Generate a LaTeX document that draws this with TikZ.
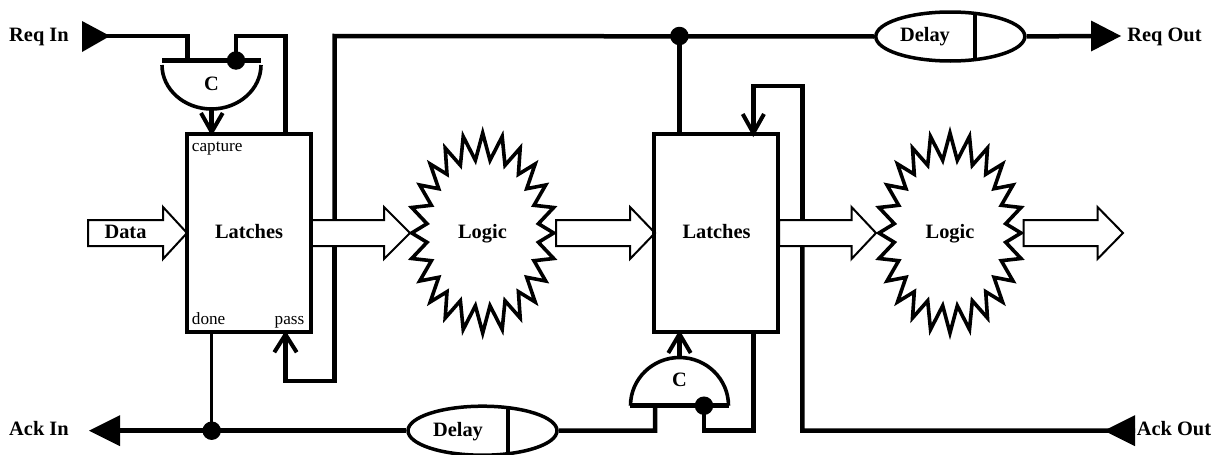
\documentclass[tikz,border=0pt]{standalone}
\usepackage{fontspec}
\setmainfont{Liberation Serif}
\usetikzlibrary{shapes.geometric}
\tikzset{
  wire/.style={line width=4.5pt,line join=miter,line cap=butt},
  thinwire/.style={line width=3.5pt},
  barb/.style={line width=4pt,line cap=butt,line join=miter},
  latchbox/.style={draw,line width=3.5pt,minimum width=124pt,minimum height=198pt,inner sep=0pt},
  delayshape/.style={draw,ellipse,line width=3.5pt,minimum width=149pt,minimum height=49pt,inner sep=0pt},
  dotnode/.style={circle,fill=black,minimum size=18.5pt,inner sep=0pt},
  blockarrow/.style={draw,line width=2pt,line join=miter},
  bigtri/.style={fill=black},
  spiky/.style={draw,line width=3.6pt,line join=miter},
  bold/.style={font=\fontsize{20.4}{22}\selectfont\bfseries,anchor=base,inner sep=0pt},
  small/.style={font=\fontsize{17.2}{19}\selectfont,inner sep=0pt},
}
\newcommand{\spikypath}{
  (0,-100) -- (7.3,-72.7) -- (19.5,-96.5) -- (22.3,-67.7) -- (37.5,-85) -- (35.7,-58.7)
  -- (52.5,-69) -- (44,-44.3) -- (63,-48) -- (51.3,-27.7) -- (71,-25.5) -- (55.7,-9.3)
  -- (71,0) -- (55.7,9.3) -- (71,25.5) -- (51.3,27.7) -- (63,48) -- (44,44.3)
  -- (52.5,69) -- (35.7,58.7) -- (37.5,85) -- (22.3,67.7) -- (19.5,96.5) -- (7.3,72.7)
  -- (0,100) -- (-7.3,72.7) -- (-19.5,96.5) -- (-22.3,67.7) -- (-37.5,85) -- (-35.7,58.7)
  -- (-52.5,69) -- (-44,44.3) -- (-63,48) -- (-51.3,27.7) -- (-71,25.5) -- (-55.7,9.3)
  -- (-71,0) -- (-55.7,-9.3) -- (-71,-25.5) -- (-51.3,-27.7) -- (-63,-48) -- (-44,-44.3)
  -- (-52.5,-69) -- (-35.7,-58.7) -- (-37.5,-85) -- (-22.3,-67.7) -- (-19.5,-96.5) -- (-7.3,-72.7) -- cycle}
% block arrow: #1 left x, #2 head start x, #3 tip x
\newcommand{\blockarr}[3]{\draw[blockarrow] (#1,220) -- (#2,220) -- (#2,207) -- (#3,233) -- (#2,259) -- (#2,246) -- (#1,246) -- cycle;}
\begin{document}
\begin{tikzpicture}[x=1pt,y=-1pt]
\useasboundingbox (0,0) rectangle (1221,455);

% block arrows
\blockarr{88}{163}{187}
\blockarr{311}{384}{410}
\blockarr{556}{630}{655}
\blockarr{779}{851.5}{876}
\blockarr{1023.5}{1097.5}{1123}

% logic clouds
\begin{scope}[shift={(482.7,233)}] \draw[spiky] \spikypath; \end{scope}
\begin{scope}[shift={(950,233)}] \draw[spiky] \spikypath; \end{scope}

% latches
\node[latchbox] (latchA) at (249,233) {};
\node[latchbox] (latchB) at (716,233) {};

% delays
\node[delayshape] (delayA) at (950.3,36.5) {};
\node[delayshape] (delayB) at (482.5,430.7) {};
\draw[line width=3.5pt] (975,13.4) coordinate (dAt) -- (975,59.6) coordinate (dAb);
\draw[line width=3.5pt] (508,407.6) coordinate (dBt) -- (508,453.8) coordinate (dBb);

% dots
\node[dotnode] (dotGateA) at (236,60.5) {};
\node[dotnode] (dotGateB) at (704,405.7) {};
\node[dotnode] (dotTop) at (679.4,36) {};
\node[dotnode] (dotAck) at (211.7,430.7) {};

% terminal triangles
\coordinate (reqInTip) at (110,36);
\coordinate (reqInWire) at (100,36);
\coordinate (reqOutBase) at (1091,36);
\coordinate (ackInBase) at (119,430.7);
\coordinate (ackOutBase) at (1135,430.7);
\fill[bigtri] (82,21) -- (reqInTip) -- (82,52) -- cycle;
\fill[bigtri] (reqOutBase) ++(0,-15.5) -- ++(30,15.5) -- ++(-30,15.5) -- cycle;
\fill[bigtri] (ackInBase) ++(1,-15.5) -- ++(-31,15.5) -- ++(31,15.5) -- cycle;
\fill[bigtri] (ackOutBase) ++(0,-15.5) -- ++(-31,15.5) -- ++(31,15.5) -- cycle;

% gate A
\coordinate (barAl) at (162,60.5);
\coordinate (barAr) at (261,60.5);
\coordinate (barAin) at (187.5,60.5);
\coordinate (domeAb) at (211.7,109);
\draw[wire,line width=4.8pt] (barAl) -- (barAr);
\draw[line width=3.6pt] (162,65) arc[start angle=180,end angle=0,x radius=49.5,y radius=44];
% gate B
\coordinate (barBl) at (630,405.7);
\coordinate (barBr) at (729,405.7);
\coordinate (barBin) at (655,405.7);
\coordinate (domeBt) at (679.5,357.5);
\draw[wire,line width=4.8pt] (barBl) -- (barBr);
\draw[line width=3.6pt] (630.5,405.7) arc[start angle=180,end angle=360,x radius=49,y radius=48.2];

% connectors
\draw[wire] (reqInWire) -- (187.5,36) -- (barAin);
\draw[wire] (dotGateA.center) -- (236,36) -- (285.5,36) -- (285.5,134);
\draw[wire] (domeAb) -- (211.7,132);
\draw[barb] (201,113) -- (211.7,132) -- (222.7,113);

\draw[wire] (334.5,220) -- (334.5,36) -- (delayA.west);
\draw[wire] (delayA.east) -- (reqOutBase);
\draw[wire] (dotTop.center) -- (679.4,134);

\draw[wire] (334.5,246) -- (334.5,381) -- (285.5,381) -- (285.5,334);
\draw[barb] (274.3,352.3) -- (285.5,334.5) -- (296.7,352.3);

\draw[thinwire] (211.7,332) -- (dotAck.center);
\draw[wire] (ackInBase) -- (delayB.west);
\draw[wire] (delayB.east) -- (655,430.5) -- (barBin);
\draw[wire] (dotGateB.center) -- (704,430.5) -- (753.3,430.5) -- (753.3,332);
\draw[wire] (802.3,246) -- (802.3,430.5) -- (ackOutBase);
\draw[wire] (802.3,220) -- (802.3,86) -- (753.3,86) -- (753.3,134);
\draw[barb] (742.7,114) -- (753.3,133) -- (764,114);
\draw[wire] (domeBt) -- (679.5,334);
\draw[barb] (668.3,353) -- (679.5,334) -- (690.7,353);

% labels
\node[bold] (tReqIn) at (39,41.7) {Req In};
\node[bold] (tReqOut) at (1164.5,41.7) {Req Out};
\node[bold] (tAckIn) at (39,435.7) {Ack In};
\node[bold] (tAckOut) at (1174,435.7) {Ack Out};
\node[bold] (tData) at (125.5,238) {Data};
\node[bold] (tLatchA) at (249,238) {Latches};
\node[bold] (tLatchB) at (716.5,238) {Latches};
\node[bold] (tLogicA) at (482.5,238) {Logic};
\node[bold] (tLogicB) at (950,238) {Logic};
\node[bold] (tDelayA) at (925,41) {Delay};
\node[bold] (tDelayB) at (458,436) {Delay};
\node[bold] (tCA) at (211.5,90) {C};
\node[bold] (tCB) at (679.5,386) {C};
\node[small,anchor=base west] (tCap) at (191.7,151) {capture};
\node[small,anchor=base west] (tDone) at (191.7,324) {done};
\node[small,anchor=base east] (tPass) at (304.5,324) {pass};
\end{tikzpicture}
\end{document}
